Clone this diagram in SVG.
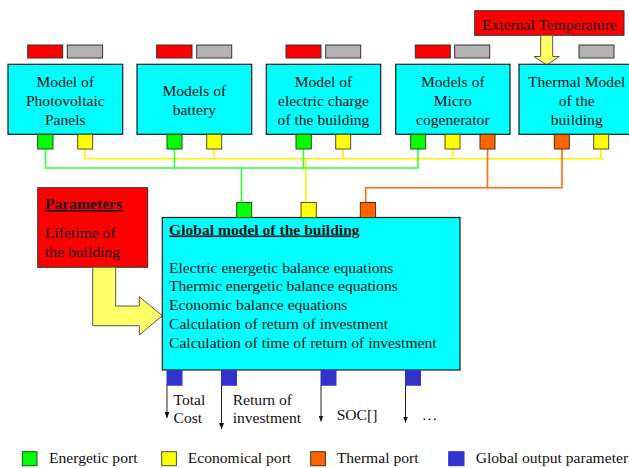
<svg xmlns="http://www.w3.org/2000/svg" width="629" height="468" viewBox="0 0 629 468">
<style>
text{font-family:"Liberation Serif","Times New Roman",serif;font-size:15.6px;fill:#111}
.c{text-anchor:middle}
.b{font-weight:bold;text-decoration:underline}
.box{fill:#00FFFF;stroke:#1a1a1a;stroke-width:1.2}
.red{fill:#FF0000;stroke:#333;stroke-width:1}
.gray{fill:#B3B3B3;stroke:#333;stroke-width:1}
.pg{fill:#00FF00;stroke:#1f4f1f;stroke-width:1}
.py{fill:#FFFF00;stroke:#4f4f1f;stroke-width:1}
.po{fill:#FF6600;stroke:#4f2f10;stroke-width:1}
.pb{fill:#3333CC;stroke:#3333CC;stroke-width:1}
.lg{fill:none;stroke:#33FF33;stroke-width:1.6}
.ly{fill:none;stroke:#FFF000;stroke-width:1.6}
.lo{fill:none;stroke:#FF6A10;stroke-width:1.6}
.out{stroke:#222;stroke-width:1;fill:none;marker-end:url(#ah)}
.arrow{fill:#FFFF66;stroke:#555;stroke-width:1}
</style>
<defs>
<marker id="ah" viewBox="0 0 6 5" refX="6" refY="2.5" markerWidth="6" markerHeight="5" markerUnits="userSpaceOnUse" orient="auto">
<path d="M0,0 L6,2.5 L0,5 Z" fill="#111"/>
</marker>
</defs>
<rect width="629" height="468" fill="#fff"/>

<g id="connectors">
<polyline class="ly" points="85,149 85,158.7 604,158.7"/>
<line class="ly" x1="214" y1="149" x2="214" y2="158.7"/>
<line class="ly" x1="343" y1="149" x2="343" y2="158.7"/>
<line class="ly" x1="452.5" y1="149" x2="452.5" y2="158.7"/>
<line class="ly" x1="601" y1="149" x2="601" y2="158.7"/>
<line class="ly" x1="306" y1="158.7" x2="306" y2="202.5"/>
<polyline class="lg" points="45.5,149 45.5,168 418,168 418,149"/>
<line class="lg" x1="174.5" y1="149" x2="174.5" y2="168"/>
<line class="lg" x1="303.5" y1="149" x2="303.5" y2="168"/>
<line class="lg" x1="241.5" y1="168" x2="241.5" y2="202.5"/>
<polyline class="lo" points="487.5,149 487.5,187.7"/>
<polyline class="lo" points="562,149 562,187.7 365.7,187.7 365.7,202.5"/>
<line class="out" x1="167" y1="385" x2="167" y2="418"/>
<line class="out" x1="221.5" y1="385" x2="221.5" y2="429"/>
<line class="out" x1="321" y1="385" x2="321" y2="421.5"/>
<line class="out" x1="405.5" y1="385" x2="405.5" y2="422.5"/>
</g>

<g id="external-temperature">
<rect class="red" x="474.7" y="10.7" width="149.3" height="24.6"/>
<text class="c" x="549.5" y="29.6">External Temperature</text>
<polygon class="arrow" points="540.7,35.3 552.7,35.3 552.7,56.5 559.3,56.5 546.7,65 534,56.5 540.7,56.5"/>
</g>

<g id="pv">
<rect class="red" x="27.7" y="45" width="35" height="13"/>
<rect class="gray" x="67.3" y="45" width="35.3" height="13"/>
<rect class="box" x="8" y="64.3" width="114.7" height="70"/>
<text class="c" x="65.3" y="86.5">Model of</text>
<text class="c" x="65.3" y="105.5">Photovoltaic</text>
<text class="c" x="65.3" y="124.5">Panels</text>
<rect class="pg" x="37.7" y="134.3" width="15.3" height="14.7"/>
<rect class="py" x="77.7" y="134.3" width="15" height="14.7"/>
</g>

<g id="battery">
<rect class="red" x="156.7" y="45" width="35.3" height="13"/>
<rect class="gray" x="196.7" y="45" width="35" height="13"/>
<rect class="box" x="137" y="64.3" width="114.7" height="70"/>
<text class="c" x="194.3" y="96">Models of</text>
<text class="c" x="194.3" y="115">battery</text>
<rect class="pg" x="167" y="134.3" width="15" height="14.7"/>
<rect class="py" x="206.7" y="134.3" width="15" height="14.7"/>
</g>

<g id="electric">
<rect class="red" x="286" y="45" width="35" height="13"/>
<rect class="gray" x="325.7" y="45" width="35" height="13"/>
<rect class="box" x="266.3" y="64.3" width="114.4" height="70"/>
<text class="c" x="323.5" y="86.5">Model of</text>
<text class="c" x="323.5" y="105.5">electric charge</text>
<text class="c" x="323.5" y="124.5">of the building</text>
<rect class="pg" x="296" y="134.3" width="15.3" height="14.7"/>
<rect class="py" x="335.7" y="134.3" width="15" height="14.7"/>
</g>

<g id="micro">
<rect class="red" x="415.3" y="45" width="35" height="13"/>
<rect class="gray" x="454.7" y="45" width="35" height="13"/>
<rect class="box" x="395.7" y="64.3" width="114.3" height="70"/>
<text class="c" x="452.8" y="86.5">Models of</text>
<text class="c" x="452.8" y="105.5">Micro</text>
<text class="c" x="452.8" y="124.5">cogenerator</text>
<rect class="pg" x="410.7" y="134.3" width="15" height="14.7"/>
<rect class="py" x="445" y="134.3" width="15" height="14.7"/>
<rect class="po" x="480" y="134.3" width="15" height="14.7"/>
</g>

<g id="thermal">
<rect class="gray" x="579" y="45" width="35" height="13"/>
<rect class="box" x="519" y="64.3" width="114.7" height="70"/>
<text class="c" x="576.7" y="86.5">Thermal Model</text>
<text class="c" x="576.7" y="105.5">of the</text>
<text class="c" x="576.7" y="124.5">building</text>
<rect class="po" x="554.3" y="134.3" width="15" height="14.7"/>
<rect class="py" x="593.7" y="134.3" width="15" height="14.7"/>
</g>

<g id="parameters">
<rect class="red" x="37.7" y="187.7" width="110" height="79.6"/>
<text class="b" x="45" y="209">Parameters</text>
<text x="45" y="238">Lifetime of</text>
<text x="45" y="257">the building</text>
<polygon class="arrow" points="92.7,267.3 115.7,267.3 115.7,306 139.3,306 139.3,296.7 162.3,315.7 139.3,335 139.3,325.7 92.7,325.7"/>
</g>

<g id="global">
<rect class="box" x="162.3" y="217.5" width="297.7" height="152.5"/>
<text class="b" x="169" y="234.5">Global model of the building</text>
<text x="169" y="272.5">Electric energetic balance equations</text>
<text x="169" y="291">Thermic energetic balance equations</text>
<text x="169" y="310">Economic balance equations</text>
<text x="169" y="329">Calculation of return of investment</text>
<text x="169" y="348">Calculation of time of return of investment</text>
<rect class="pg" x="236.7" y="202.5" width="15" height="15"/>
<rect class="py" x="301" y="202.5" width="15.3" height="15"/>
<rect class="po" x="360.3" y="202.5" width="15.3" height="15"/>
<rect class="pb" x="167" y="370.5" width="15" height="14.7"/>
<rect class="pb" x="221.5" y="370.5" width="15" height="14.7"/>
<rect class="pb" x="321" y="370.5" width="15" height="14.7"/>
<rect class="pb" x="405.5" y="370.5" width="15" height="14.7"/>
</g>

<g id="outputs">
<text x="173.5" y="404.5">Total</text>
<text x="173.5" y="422.5">Cost</text>
<text x="232.7" y="404.5">Return of</text>
<text x="232.7" y="422.5">investment</text>
<text x="336.7" y="419.5">SOC[]</text>
<text x="421.7" y="419.5">…</text>
</g>

<g id="legend">
<rect class="pg" x="22.3" y="451.7" width="14.7" height="14"/>
<text x="49" y="463">Energetic port</text>
<rect class="py" x="161.7" y="451.7" width="14.7" height="14"/>
<text x="187.7" y="463">Economical port</text>
<rect class="po" x="310.7" y="451.7" width="14.7" height="14"/>
<text x="336.7" y="463">Thermal port</text>
<rect class="pb" x="448.7" y="451.7" width="15.3" height="14"/>
<text x="475.7" y="463">Global output parameter</text>
</g>
</svg>
